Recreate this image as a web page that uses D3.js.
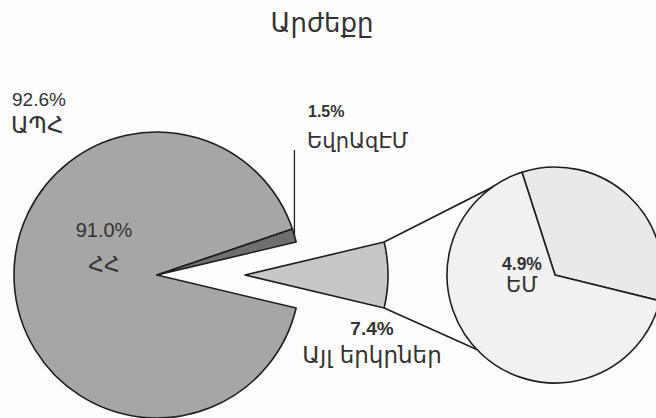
<!DOCTYPE html>
<meta charset="utf-8">
<style>
body { margin: 0; background: #fdfdfd; }
svg { display: block; }
.num { font-family: "Liberation Sans", Arial, sans-serif; fill: #333; }
.arm { font-family: "DejaVu Sans", sans-serif; fill: #333; }
</style>
<svg width="656" height="418"></svg>
<script src="https://d3js.org/d3.v7.min.js"></script>
<script>

var title = "Արժեքը";

// main pie: share of total, %
var mainNames = ["Այլ երկրներ", "ՀՀ", "ԵվրԱզԷՄ"],
    mainValues = [7.4, 91.0, 1.5],
    mainColors = ["#c7c7c7", "#a6a6a6", "#6f6f6f"];

// second pie: breakdown of "Այլ երկրներ"
var subNames = ["այլ", "ԵՄ"],
    subValues = [2.5, 4.9],
    subColors = ["#e9e9e9", "#f1f1f1"];

var groupName = "ԱՊՀ",
    groupValue = 92.6;

var svg = d3.select("svg"),
    width = +svg.attr("width"),
    height = +svg.attr("height");

var cx = 157, cy = 275, r = 143,
    explode = 88,
    cx2 = 555, r2 = 108;

var total = d3.sum(mainValues),
    half = mainValues[0] / total * Math.PI;

var pie = d3.pie().sort(null)
  .startAngle(Math.PI / 2 - half)
  .endAngle(Math.PI / 2 - half + 2 * Math.PI);

var arcs = pie(mainValues);
var arc = d3.arc().innerRadius(0).outerRadius(r);

var g = svg.append("g").attr("transform", "translate(" + cx + "," + cy + ")");

g.selectAll("path")
  .data(arcs)
  .enter().append("path")
    .attr("transform", function(d, i) { return i == 0 ? "translate(" + explode + ",0)" : null; })
    .attr("d", arc)
    .attr("fill", function(d, i) { return mainColors[i]; })
    .attr("stroke", "#1e1e1e")
    .attr("stroke-width", 1.6)
    .attr("stroke-linejoin", "round");

// second pie
var subStart = -17.8 * Math.PI / 180;
var pie2 = d3.pie().sort(null).startAngle(subStart).endAngle(subStart + 2 * Math.PI);
var arcs2 = pie2(subValues);
var arc2 = d3.arc().innerRadius(0).outerRadius(r2);

// connector lines from the exploded slice to the second pie
var other = arcs[0];
function pt(x0, y0, rr, a) { return [x0 + rr * Math.sin(a), y0 - rr * Math.cos(a)]; }
var p1 = pt(cx + explode, cy, r, other.startAngle),
    p2 = pt(cx + explode, cy, r, other.endAngle),
    q1 = pt(cx2, cy, r2, subStart),
    q2 = pt(cx2, cy, r2, Math.PI * 1.01);

svg.selectAll("line.conn")
  .data([[p1, q1], [p2, q2]])
  .enter().append("line")
    .attr("class", "conn")
    .attr("x1", function(d) { return d[0][0]; })
    .attr("y1", function(d) { return d[0][1]; })
    .attr("x2", function(d) { return d[1][0]; })
    .attr("y2", function(d) { return d[1][1]; })
    .attr("stroke", "#1e1e1e")
    .attr("stroke-width", 1.6);

var g2 = svg.append("g").attr("transform", "translate(" + cx2 + "," + cy + ")");
g2.selectAll("path")
  .data(arcs2)
  .enter().append("path")
    .attr("d", arc2)
    .attr("fill", function(d, i) { return subColors[i]; })
    .attr("stroke", "#1e1e1e")
    .attr("stroke-width", 1.6)
    .attr("stroke-linejoin", "round");

// leader line for ԵվրԱզԷՄ
var small = arcs[2];
var lp = pt(cx, cy, r, (small.startAngle + small.endAngle) / 2);
svg.append("line")
  .attr("x1", lp[0]).attr("y1", lp[1])
  .attr("x2", lp[0]).attr("y2", 150)
  .attr("stroke", "#1e1e1e")
  .attr("stroke-width", 1.3);

var fmt = function(v) { return v.toFixed(1) + "%"; };

svg.append("text")
  .attr("class", "arm")
  .attr("x", 322).attr("y", 32)
  .attr("text-anchor", "middle")
  .style("font-size", "26px")
  .text(title);

function label(x, y, anchor, num, name, nsize, asize, bold, gap) {
  svg.append("text").attr("class", "num")
    .attr("x", x).attr("y", y)
    .attr("text-anchor", anchor)
    .style("font-size", nsize + "px")
    .style("font-weight", bold ? "bold" : "normal")
    .text(num);
  svg.append("text").attr("class", "arm")
    .attr("x", anchor == "start" ? x - 1 : x).attr("y", y + gap)
    .attr("text-anchor", anchor)
    .style("font-size", asize + "px")
    .text(name);
}

label(12, 106, "start", fmt(groupValue), groupName, 19, 23, false, 27);
label(104, 237, "middle", fmt(mainValues[1]), mainNames[1], 20, 22, false, 35);
label(308, 117, "start", fmt(mainValues[2]), mainNames[2], 16, 21, true, 31);
label(372, 335, "middle", fmt(mainValues[0]), mainNames[0], 19, 23, true, 28);
label(522, 270, "middle", fmt(subValues[1]), subNames[1], 17.5, 21, true, 22);

</script>
